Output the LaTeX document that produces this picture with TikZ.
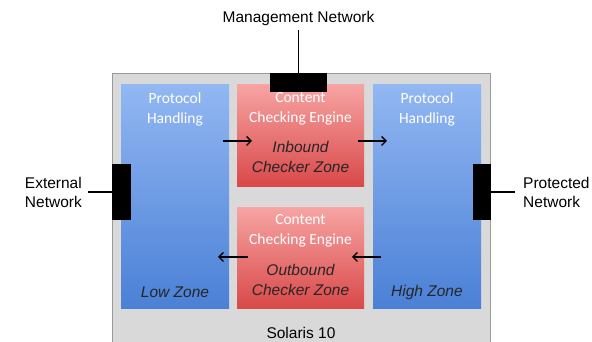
\documentclass[tikz,border=0pt]{standalone}
\usepackage{fontspec}
\setmainfont{Liberation Sans}
\newfontfamily\carl{Carlito}
\usetikzlibrary{arrows.meta}
\definecolor{blueTop}{HTML}{92B7F2}
\definecolor{blueBot}{HTML}{4A80D6}
\definecolor{redTop}{HTML}{F7A3A3}
\definecolor{redBot}{HTML}{D94848}
\definecolor{grayFill}{HTML}{D9D9D9}
\definecolor{grayLine}{HTML}{9A9A9A}
\tikzset{
  x=1pt,y=1pt,
  zonebox/.style={draw=none,top color=blueTop,bottom color=blueBot,minimum width=108pt,minimum height=224pt,inner sep=0pt},
  checkbox/.style={draw=none,top color=redTop,bottom color=redBot,minimum width=127pt,minimum height=102pt,inner sep=0pt},
  port/.style={fill=black,draw=none,inner sep=0pt},
  white text/.style={text=white,font=\carl\fontsize{15.5}{20}\selectfont,align=center,inner sep=0pt},
  ital text/.style={text=black!85,font=\itshape\fontsize{15.5}{20}\selectfont,align=center,inner sep=0pt},
  label text/.style={text=black,font=\fontsize{15.5}{19}\selectfont,inner sep=0pt},
  flow/.style={-{Straight Barb[length=4.5pt,width=9pt,line width=1.4pt]},line width=1.5pt,black},
  wire/.style={line width=1.4pt,black}
}
\begin{document}
\begin{tikzpicture}
\useasboundingbox (0,0) rectangle (592,342);
% outer Solaris box
\draw[fill=grayFill,draw=grayLine,line width=0.8pt] (112,-5) rectangle (490,269);
% zones
\node[zonebox] (low) at (175,145) {};
\node[zonebox] (high) at (427,145) {};
\node[checkbox] (inb) at (300.5,206) {};
\node[checkbox,minimum height=101pt] (outb) at (300.5,83.5) {};
% ports
\node[port,minimum width=57pt,minimum height=19pt] (mport) at (298.5,259.5) {};
\node[port,minimum width=19pt,minimum height=56pt] (eport) at (121.5,150) {};
\node[port,minimum width=18pt,minimum height=56pt] (pport) at (482,150) {};
% texts in boxes
\node[white text] (lowt) at (175,233) {Protocol\\Handling};
\node[white text] (hight) at (427,233) {Protocol\\Handling};
\node[white text] (inbt) at (300.5,233) {Content\\Checking Engine};
\node[ital text] (inbi) at (300.5,185) {Inbound\\Checker Zone};
\node[white text] (outbt) at (300.5,111) {Content\\Checking Engine};
\node[ital text] (outbi) at (300.5,62.5) {Outbound\\Checker Zone};
\node[ital text] (lowz) at (175,50) {Low Zone};
\node[ital text] (highz) at (427,50) {High Zone};
\node[label text] (sol) at (301,9) {Solaris 10};
% external labels
\node[label text] (mgmt) at (298.5,324) {Management Network};
\node[label text,align=right,anchor=east] (ext) at (82,150) {External\\Network};
\node[label text,align=left,anchor=west] (prot) at (523,150) {Protected\\Network};
\coordinate (mgmtEnd) at (298.5,312);
\draw[wire] (mport.north) -- (mgmtEnd);
\coordinate (extEnd) at (88,150);
\draw[wire] (eport.west) -- (extEnd);
\coordinate (protEnd) at (515,150);
\draw[wire] (pport.east) -- (protEnd);
% flow arrows
\coordinate (a1s) at (223,201); \coordinate (a1e) at (252,201);
\coordinate (a2s) at (358,201); \coordinate (a2e) at (387,201);
\coordinate (a3s) at (381,85); \coordinate (a3e) at (352,85);
\coordinate (a4s) at (248,85); \coordinate (a4e) at (218,85);
\draw[flow] (a1s) -- (a1e);
\draw[flow] (a2s) -- (a2e);
\draw[flow] (a3s) -- (a3e);
\draw[flow] (a4s) -- (a4e);
\end{tikzpicture}
\end{document}
